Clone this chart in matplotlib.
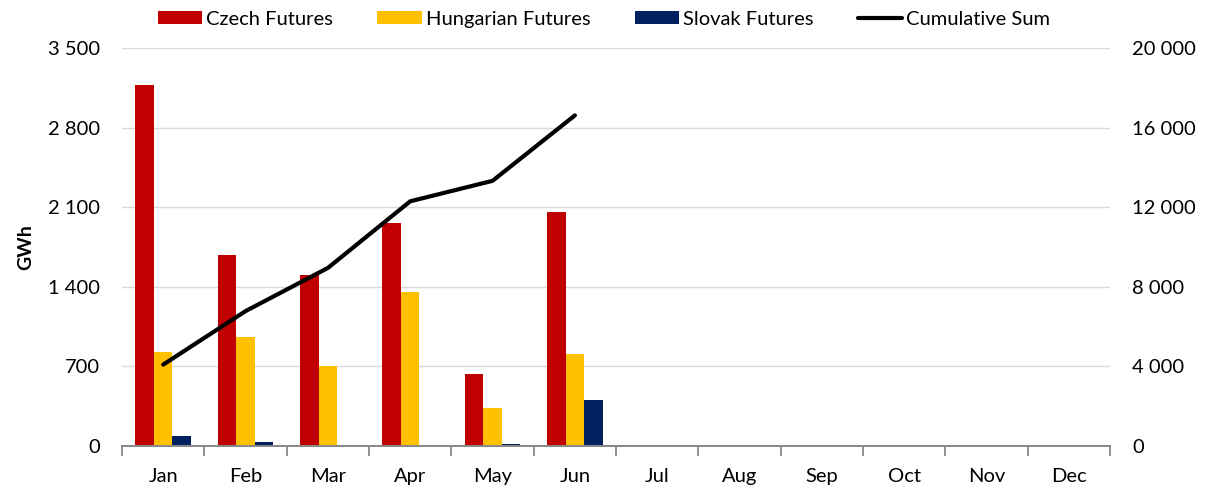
import numpy as np
import matplotlib.pyplot as plt
from matplotlib.ticker import FuncFormatter

months = ['Jan', 'Feb', 'Mar', 'Apr', 'May', 'Jun', 'Jul', 'Aug', 'Sep', 'Oct', 'Nov', 'Dec']
czech = [3175, 1680, 1504, 1961, 633, 2057, 0, 0, 0, 0, 0, 0]
hungarian = [827, 958, 703, 1354, 334, 809, 0, 0, 0, 0, 0, 0]
slovak = [88, 35, 5, 0, 15, 404, 0, 0, 0, 0, 0, 0]
cumulative = [4090, 6780, 8950, 12300, 13330, 16620]

plt.rcParams['font.family'] = ['Lato', 'DejaVu Sans']

fig = plt.figure(figsize=(12.08, 4.9), dpi=100)
ax = fig.add_axes([0.101, 0.0898, 0.818, 0.812])
ax2 = ax.twinx()

x = np.arange(len(months))
w = 0.225
b1 = ax.bar(x - w, czech, w, color='#c00000', label='Czech Futures')
b2 = ax.bar(x, hungarian, w, color='#ffc000', label='Hungarian Futures')
b3 = ax.bar(x + w, slovak, w, color='#002060', label='Slovak Futures')
l1, = ax2.plot(x[:len(cumulative)], cumulative, color='black', lw=3,
               label='Cumulative Sum', solid_capstyle='round')

ax.set_xlim(-0.5, 11.5)
ax.set_ylim(0, 3500)
ax2.set_ylim(0, 20000)
ax.set_yticks(np.arange(0, 3501, 700))
ax2.set_yticks(np.arange(0, 20001, 4000))

fmt = FuncFormatter(lambda v, p: f'{int(v):,}'.replace(',', ' '))
ax.yaxis.set_major_formatter(fmt)
ax2.yaxis.set_major_formatter(fmt)

ax.set_axisbelow(True)
ax.grid(axis='y', color='#d9d9d9', lw=1)
for a in (ax, ax2):
    for s in ['top', 'left', 'right']:
        a.spines[s].set_visible(False)
    a.spines['bottom'].set_color('#898989')
    a.spines['bottom'].set_linewidth(1.3)
    a.tick_params(axis='y', length=0, labelsize=14.5, pad=16)

ax.set_xticks(x)
ax.set_xticklabels(months, fontsize=14.5)
ax.tick_params(axis='x', which='major', length=0, pad=16)
ax.set_xticks(np.arange(-0.5, 12, 1), minor=True)
ax.tick_params(axis='x', which='minor', length=7, color='#898989', width=1.3)

ax.set_ylabel('GWh', fontsize=14, fontweight='bold', labelpad=10)

fig.legend(handles=[b1, b2, b3, l1], loc='upper center', bbox_to_anchor=(0.5, 1.015),
           ncol=4, frameon=False, fontsize=14.5, handlelength=2.2, handleheight=0.65,
           handletextpad=0.2, columnspacing=2.2)

plt.savefig('out.png', dpi=100)
